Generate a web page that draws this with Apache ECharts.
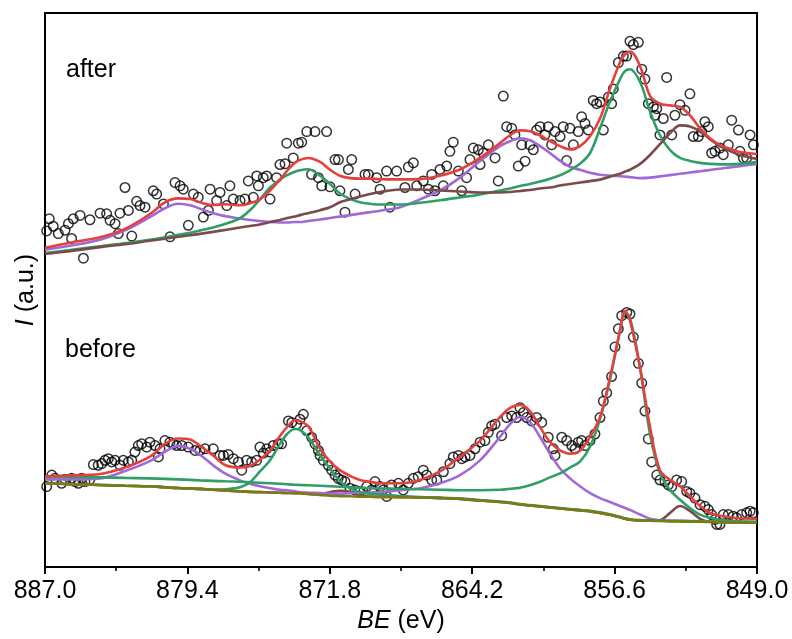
<!DOCTYPE html>
<html><head><meta charset="utf-8">
<script src="https://cdn.jsdelivr.net/npm/echarts@6/dist/echarts.min.js"></script>
<style>html,body{margin:0;padding:0;background:#fff}#c{width:792px;height:639px}</style>
</head><body><div id="c"></div>
<script>
// ---- tick labels (binding energy, eV) ----
const xTickLabels = ['849.0','856.6','864.2','871.8','879.4','887.0'];

// ---- measured points: "after" ----
const afterBE = [886.77,886.56,886.91,886.29,885.93,885.75,885.49,885.13,885.58,884.95,884.60,884.06,883.71,883.53,883.26,883.09,883.00,882.55,882.73,882.37,882.11,881.93,881.66,881.22,881.04,880.68,880.33,880.06,879.79,879.62,879.35,879.08,878.82,878.55,878.28,878.19,877.66,877.84,877.30,877.13,876.95,876.59,876.33,876.15,875.88,875.70,875.35,875.61,875.17,874.99,874.64,874.46,874.19,874.10,873.75,873.48,873.30,873.03,872.59,871.97,872.77,872.41,872.23,871.79,871.52,871.34,870.81,870.63,871.26,870.99,870.45,869.92,869.74,869.30,869.12,868.77,868.59,868.23,
867.61,867.34,867.79,867.16,866.81,866.54,866.19,866.36,865.92,865.56,865.74,865.39,865.21,864.94,864.76,864.50,864.32,864.14,863.87,863.61,863.34,863.78,862.98,862.81,862.54,862.36,862.09,861.92,861.74,861.56,861.38,861.12,860.94,860.76,860.58,860.32,860.14,859.96,859.78,859.51,859.34,859.16,858.98,858.80,858.54,858.36,858.18,858.00,857.74,857.56,857.38,857.20,856.93,856.76,856.67,856.40,856.13,855.96,855.78,855.60,855.33,855.15,854.98,854.80,854.53,854.35,854.44,854.00,854.18,853.82,853.55,853.38,853.11,852.84,852.58,852.40,852.13,851.95,851.78,851.60,851.42,851.24,850.97,850.80,850.53,850.35,849.99,849.91,849.73,849.55,849.37,849.19];
const afterI = [353.3,345.7,341,338.3,341.7,348.3,353.3,356.7,333.3,313.3,352.3,359,358.3,351.7,348.3,338.3,359,361.7,385,335.7,371,366.7,365,381.7,378.3,368.3,335,390,386.7,383.3,346.7,378.3,375,355,361.7,383.3,380,371.7,366.7,386.7,373.3,371.7,373.3,391.7,375,396.7,395,386.7,396.7,373.3,395,408.3,409,430,415,430,431,441.7,441.7,441.7,398.3,395,386.7,385.7,413.3,413.3,403.3,413.3,381.7,360,378.3,398.3,398.3,395,383.3,401.7,365,401.7,
405.7,410,385,386.7,391.7,383.3,381.7,398.3,403.3,406.7,386.7,421.7,431,401.7,381.7,395,413.3,425,423.3,420,428.3,408.3,415,391.7,477.7,446.7,445,438.3,406.7,428.3,411.7,428.3,423.3,443.3,446.7,438.3,446.7,428.3,441.7,436.7,446.7,412.3,445,428.3,441.7,456.7,450,443.3,473.3,470,471.7,443.3,476.7,470,485,511.7,518.3,518.3,533.3,530,532.3,505,495,470,466.7,465,458.3,455,438.3,496.7,438.3,458.3,469,463.3,480,436.7,436.7,441.7,451.7,446.7,420,421.7,425,418.3,428.3,453.3,443.3,421.7,415,415,438.3,428.3];

// ---- measured points: "before" ----
const beforeBE = [886.91,886.64,886.47,886.11,885.93,885.58,885.40,885.22,885.04,884.87,884.60,884.42,884.16,883.97,883.80,883.62,883.44,883.26,883.00,882.82,882.55,882.37,882.20,882.02,881.84,881.57,881.40,881.13,880.95,880.86,880.60,880.33,880.15,879.97,879.70,879.35,878.99,878.73,878.46,878.02,877.66,
877.48,877.22,876.95,876.68,876.50,876.24,875.97,875.70,875.53,875.35,875.17,874.99,874.82,874.55,874.37,874.01,873.83,873.57,873.21,873.39,873.03,872.77,872.59,872.41,872.32,872.15,871.88,871.70,871.52,871.35,871.17,870.99,870.72,870.46,870.19,869.83,869.56,869.39,869.12,868.95,868.76,868.50,868.14,
867.88,867.61,867.34,867.08,866.81,866.63,866.36,866.09,865.74,865.39,865.21,864.94,864.76,864.58,864.32,864.05,863.78,863.52,863.34,863.16,862.98,862.63,862.36,862.09,861.83,861.65,861.47,861.29,861.03,860.76,860.49,860.14,859.87,859.78,859.42,859.16,858.89,858.71,858.54,
858.36,858.18,857.91,857.65,857.38,857.20,857.02,856.76,856.58,856.40,856.22,855.95,855.78,855.60,855.33,855.15,854.98,854.80,854.62,854.35,854.18,853.91,853.73,853.55,853.29,853.02,852.75,852.58,852.31,852.04,851.78,851.60,851.42,851.24,851.15,850.98,850.80,850.53,850.27,850.09,849.82,849.55,849.37,849.20];
const beforeI = [81.7,93.3,90,85,89,90,86.7,85,90,86.7,89,104,103.3,105,108.3,110,106.7,108.3,103.3,108.3,106.7,108.3,116.7,123.3,125,121.7,126.7,123.3,111.7,120,128.3,126.7,125,123.3,123.3,121.7,118.3,118.3,120,120,113.3,
113.3,114.3,110,106.7,98.3,108.3,106.7,108.3,121.7,115.7,120,116.7,123.3,125,125,148.3,146.7,145,155,150,138.3,131.7,125,118.3,113.3,108.3,103.3,98.3,93.3,90,88.3,86.7,80,78.3,76.7,81.7,78.3,86.7,81.7,78.3,71.7,83.3,85,
78.3,85,90,91.7,98.3,93.3,88.3,88.3,96.7,105,111.7,113.3,110,111.7,113.3,120,126.7,128.3,136.7,143.3,145,133.3,151.7,153.3,151.7,161.7,156.7,151.7,148.3,151.7,146.7,131.7,120,113.3,131.7,128.3,123.3,120,126.7,
128.3,123.3,128.3,135,151.7,168.3,176.7,193.3,223.3,241.7,255,258.3,256.7,233.3,206.7,186.7,158.3,130,106.7,93.3,88.3,86.7,83.3,81.7,88.3,86.7,76.7,75,70,63.3,61.7,58.3,53.3,48.3,43.3,43.3,53.3,53.3,51.7,50,53.3,55,56.7,55];

// ---- fitted curves, sampled at these binding energies ----
const curveBE = [887.00,885.67,884.06,882.73,881.40,880.60,879.90,879.26,878.73,878.03,877.39,876.59,876.06,875.53,874.99,874.46,874.08,873.66,873.39,872.96,872.32,871.79,871.26,870.72,870.19,869.65,869.12,868.05,866.99,865.92,864.85,863.78,862.72,862.18,861.65,861.12,860.58,860.05,859.51,858.98,858.45,857.91,857.38,856.85,856.31,856.05,855.78,855.24,854.71,854.18,853.64,853.11,852.58,852.04,851.51,850.98,850.44,849.91,849.00];

const afterEnvelope = [324,329,334.5,343,358,370,374,373.3,370,367.3,368,367,369,373,382,393,402,410,413,415,411,403,397,394.5,394,394,393.5,393.3,393.5,397,403.3,415,430,438,443,442,438,432,427,423.5,427,437,455,485,512,520,523,508,478,470,468.3,466.7,458.3,445,435,428.3,424.3,421,419];
const afterGreen = [318.5,321.5,325.5,328.5,332,334.5,337,339,341.5,344.5,348,354,362,373,385,393,397.5,401,402.5,403.5,397,388.5,379,373.5,370,368.5,367.7,367.7,369.5,372,375,378,382,384,386.5,388.5,391,394,397.5,402.5,409,420,445,472,495,503,505,492,462,438,423,415,412,410,409,408.5,408.5,409,411];
const afterPurple = [322,326,332,341.5,355,364,368.5,367,363.5,359,356,353.5,352,351,350,349.5,349.5,350,350,351,352.5,354,355.5,357,358.5,360,361.5,365,373,382,395,412,427,432,435,433,427,420,412,406,403,400,398,397,396.5,396,395.5,394.5,395,396.3,397.6,398.9,400.2,401.5,402.8,404.1,405.4,406.7,408.8];
const afterBrown = [317.5,320.5,324.5,327.5,331,333,335,336.5,338,340,342,344.5,346,347.5,350,352,354,355.5,357,359,362,365,370,373,376,378.5,380.5,383,383,382,381,380,380,380.5,381.5,382.5,384,385,387,388.5,390,391.5,393,396,399,401,403,409,418,429,440,448,447,442,434,427,422,418,414];

const beforeEnvelope = [92,93,94.5,101,112,125,130.5,129.5,123,113.3,103.5,101,102.5,109,118.3,133,142,149,148,143,120,107,98.3,92.5,88.3,86.5,85,85,88.3,97,112,128.3,152,161.5,164.5,158.3,142,127,118.3,115,118,132,152,192,240,260,250,202,142,98.3,88.3,82,72,62,55,52,50.5,49.5,49];
const beforeGreenA = [85,84.2,83.3,82.5,82,81,80.2,79.7,79.3,78.5,79,81,86,97,108.3,125,135,140,139,132,113.3,100,87,80,76,74.5,73.5,72,71,70.5,69.7,68,66.5,65.5,64,63,62,61,60,59,58,57,55.5,53.5,51,49.5,48.5,47.7,47.5,47.2,46.9,46.7,46.5,46.5,46.2,46,45.8,45.7,45.5];
const beforeGreenB = [92,91.5,91,90.5,90,89.5,89,88.5,88,87.5,87,86.5,86,85.5,85,84.5,84,83.5,83.3,83,82.5,82,81.5,81,80.5,80,79.7,79.5,79,78.5,78,78,78.5,79.5,80.5,83,86.5,91,95,101,107,122,150,190,240,258,253,202,135,95,78.3,68.3,60,53.3,50,48,47,46.5,46];
const beforePurple = [89,89,90,97.5,107.5,117,123,120,114,103.3,95,88,84.5,82,80,78.5,78,77,76,75.5,75,74.5,74.5,75,75.5,75.5,76,78,80,85,93.3,108.3,132,145,152.3,147,132,115,100,90,82,75,70,66,62,60,58,53.3,49,47.5,47.2,47,46.7,46.5,46.2,46,45.7,45.5,45];
const beforeBrown = [85,84.2,83.3,82.5,82,81,80.2,79.7,79.3,78.5,77.7,76.8,76.3,76,75.7,75.4,75.2,75,75,74.2,74,76,77.5,76.5,73.5,71.3,71.2,71,70.5,70,69.2,67.5,66,65,63.5,62.5,61.5,60.5,59.5,58.5,57.5,56.5,55,53,50.5,49,48,47.2,47,47.5,55,62,57,49,46,45.5,45.3,45.2,45];
const beforeBackground = [85,84.2,83.3,82.5,82,81,80.2,79.7,79.3,78.5,77.7,76.8,76.3,76,75.7,75.4,75.2,75,75,74.2,73.2,72.3,72,71.8,71.5,71.3,71.2,71,70.5,70,69.2,67.5,66,65,63.5,62.5,61.5,60.5,59.5,58.5,57.5,56.5,55,53,50.5,49,48,47.2,47,46.7,46.4,46.2,46,46,45.7,45.5,45.3,45.2,45];

// ---- build ----
const X0 = 849;           // axis origin (eV); axis values are BE - X0
const STEP = 7.6;
const FONT = 'Liberation Sans';
function pairs(xs, ys){ return xs.map((x,i)=>[+(x - X0).toFixed(3), ys[i]]); }

const COLORS = {red:'#e5403e', green:'#2f9f67', purple:'#a169d6', brown:'#7b4b4a', olive:'#7d7a12'};

function curve(name, ys, color, z){
  return {type:'line', name, data:pairs(curveBE, ys), showSymbol:false, smooth:0.35,
    lineStyle:{color, width:2.6}, itemStyle:{color}, z, silent:true, animation:false};
}
function dots(name, xs, ys){
  return {type:'scatter', name, data:pairs(xs, ys), symbol:'circle', symbolSize:9.5,
    itemStyle:{color:'rgba(255,255,255,0)', borderColor:'#000', borderWidth:1.5}, z:2, silent:true, animation:false};
}

const chart = echarts.init(document.getElementById('c'), null, {renderer:'canvas'});
chart.setOption({
  backgroundColor:'#fff',
  animation:false,
  grid:{left:45, right:35, top:13, bottom:64, show:true, borderColor:'#000', borderWidth:2, backgroundColor:'transparent'},
  xAxis:{
    type:'value', inverse:true, min:0, max:38, interval:STEP,
    axisLine:{show:true, lineStyle:{color:'#000', width:2}},
    axisTick:{show:true, inside:false, length:7, lineStyle:{color:'#000', width:2}},
    minorTick:{show:true, splitNumber:2, length:4, lineStyle:{color:'#000', width:1.6}},
    splitLine:{show:false},
    axisLabel:{margin:12, color:'#000', fontSize:25, fontFamily:FONT,
      formatter:v=>xTickLabels[Math.round(v/STEP)]},
    name:'{i|BE} (eV)', nameLocation:'middle', nameGap:37,
    nameTextStyle:{color:'#000', fontSize:25, fontFamily:FONT,
      rich:{i:{fontStyle:'italic', fontSize:25, fontFamily:FONT, color:'#000'}}}
  },
  yAxis:{
    type:'value', min:0, max:562,
    axisLine:{show:true, lineStyle:{color:'#000', width:2}},
    axisTick:{show:false}, axisLabel:{show:false}, splitLine:{show:false},
    name:'{i|I} (a.u.)', nameLocation:'middle', nameRotate:90, nameGap:6,
    nameTextStyle:{color:'#000', fontSize:25, fontFamily:FONT,
      rich:{i:{fontStyle:'italic', fontSize:25, fontFamily:FONT, color:'#000'}}}
  },
  graphic:[
    {type:'text', left:66, top:58, style:{text:'after', fontSize:25, fontFamily:FONT, fill:'#000'}},
    {type:'text', left:65, top:338, style:{text:'before', fontSize:25, fontFamily:FONT, fill:'#000'}}
  ],
  series:[
    dots('after data', afterBE, afterI),
    dots('before data', beforeBE, beforeI),
    curve('after purple', afterPurple, COLORS.purple, 3),
    curve('after green', afterGreen, COLORS.green, 4),
    curve('after brown', afterBrown, COLORS.brown, 5),
    curve('after envelope', afterEnvelope, COLORS.red, 6),
    curve('before brown', beforeBrown, COLORS.brown, 3),
    curve('before purple', beforePurple, COLORS.purple, 3),
    curve('before green A', beforeGreenA, COLORS.green, 4),
    curve('before green B', beforeGreenB, COLORS.green, 4),
    curve('before background', beforeBackground, COLORS.olive, 5),
    curve('before envelope', beforeEnvelope, COLORS.red, 6)
  ]
});
</script>
</body></html>
